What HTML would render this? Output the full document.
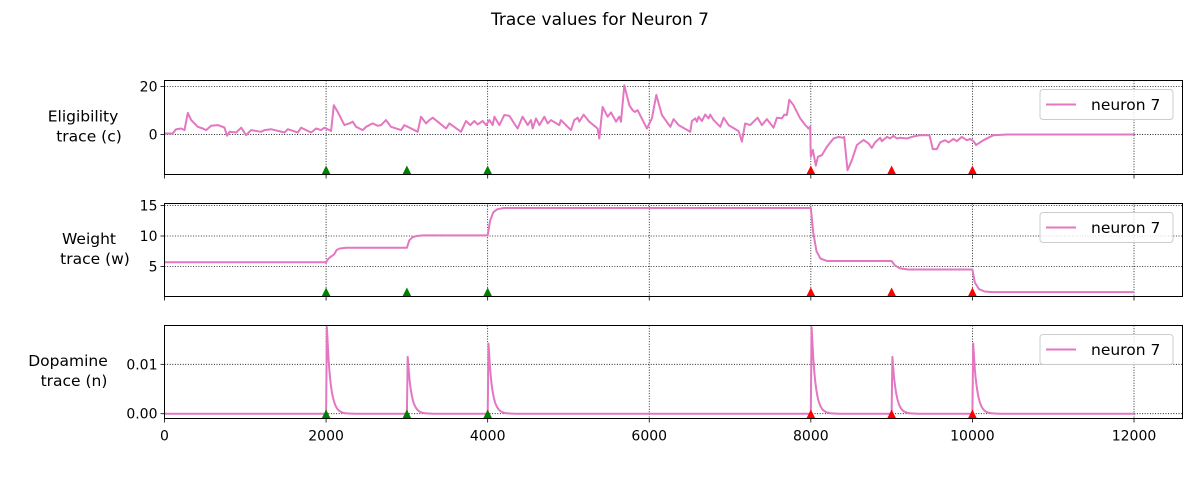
<!DOCTYPE html>
<html><head><meta charset="utf-8"><style>
html,body{margin:0;padding:0;background:#fff;}
svg{display:block;font-family:"DejaVu Sans","Liberation Sans",sans-serif;}
</style></head><body>
<svg id="chart" width="1200" height="480" viewBox="0 0 1200 480" xmlns="http://www.w3.org/2000/svg">
<text x="600" y="25" text-anchor="middle" font-size="17">Trace values for Neuron 7</text>
</svg>
<script>
// ---- data ----
const xTicks = [0, 2000, 4000, 6000, 8000, 10000, 12000];
const rewardTimes = [2000, 3000, 4000];
const punishTimes = [8000, 9000, 10000];
const eligT = [0,100,144,206,247,289,330,412,474,515,577,660,742,775,804,887,949,1010,1072,1196,1237,1320,1485,1526,1650,1691,1815,1876,1938,1980,2062,2095,2144,2227,2289,2330,2371,2454,2495,2577,2639,2681,2742,2804,2928,2969,3134,3175,3237,3279,3320,3382,3485,3526,3670,3732,3786,3835,3877,3938,3980,4021,4062,4083,4145,4206,4268,4371,4433,4495,4536,4557,4598,4640,4701,4743,4784,4887,4907,5031,5072,5114,5134,5188,5258,5361,5382,5423,5485,5526,5588,5629,5650,5691,5753,5794,5823,5856,5897,5971,6033,6087,6157,6260,6301,6363,6508,6528,6570,6590,6611,6652,6693,6735,6755,6796,6879,6920,6982,7106,7147,7188,7250,7341,7394,7456,7539,7580,7642,7671,7704,7733,7786,7869,7931,7972,7992,8000,8025,8062,8087,8137,8199,8281,8343,8397,8413,8454,8508,8570,8652,8714,8755,8796,8858,8879,8941,8982,9023,9065,9106,9188,9250,9353,9435,9469,9510,9559,9601,9662,9704,9765,9807,9869,9931,9972,10013,10046,10137,10261,10425,12000];
const eligV = [0.4,0.4,2.2,2.5,1.8,9,6,3.2,2.5,1.8,3.6,3.9,2.9,-0.5,1.1,0.8,2.8,-0.3,1.8,1.1,1.8,2.2,0.8,2.2,0.8,2.8,0.8,2.5,1.8,2.8,1.5,12.2,9.4,3.9,4.6,5.3,3.2,1.8,3.2,4.6,3.6,3.9,6,3.2,1.8,3.9,1.1,7.4,4.6,6,7,5.3,2.5,4.6,1.1,5.6,3.9,5.6,4.2,5.6,3.9,6,3.9,7.4,3.9,8.1,7.8,2.5,7.4,3.9,6,2.5,6.7,3.9,7.4,4.6,6,3.9,6,1.8,6,7,5.3,8.3,5.3,2.5,-1.7,11.5,7.4,9.2,5.3,7.4,5.3,20.5,12.2,10.1,9.4,10.1,7.4,2.5,6.7,16.5,8.1,3.2,6.4,3.9,1.1,5.6,6.7,5.3,7.4,5.6,8.3,6.7,8.3,6,3.2,7,3.9,1.4,-3,4.6,3.9,7,3.9,6.4,2.8,7,6.7,8.3,8.1,14.5,12.2,6.7,3.9,2.5,3.2,-9.3,-6.5,-13,-9.3,-8.6,-5.1,-1.7,-1,-1.4,-1,-14.9,-10.7,-4.4,-2.3,-3.7,-5.6,-3.3,-1.4,-2.8,-1,-1.7,-0.6,-1.7,-1.4,-1.7,-1,-0.3,-0.3,-0.3,-6.1,-6.1,-3.3,-2.4,-3.3,-1.9,-2.8,-1,-2.4,-1.9,-2.8,-4.4,-2.4,-0.3,0,0];
const weightT = [0,2000,2030,2060,2100,2130,2170,2250,3000,3030,3070,3120,3200,4000,4030,4070,4120,4200,8000,8030,8070,8120,8200,9000,9040,9100,9200,10000,10030,10080,10150,10250,12000];
const weightV = [5.7,5.7,6.3,6.6,7.0,7.7,7.95,8.07,8.07,9.3,9.8,10.0,10.1,10.1,12.5,13.9,14.4,14.6,14.6,10.5,7.5,6.3,5.9,5.9,5.2,4.7,4.5,4.5,2.4,1.3,0.9,0.8,0.8];
const dopaTimes = [2000, 3000, 4000, 8000, 9000, 10000];
const dopaPeaks = [0.0175, 0.0115, 0.0142, 0.0175, 0.0115, 0.0142];
const dopaEnd = 12000;

// ---- layout ----
const NS = "http://www.w3.org/2000/svg";
const svg = document.getElementById('chart');
const L = 164.5, R = 1182.5, xMin = 0, xMax = (R - L) / ((1134 - 164.5) / 12000);
const sx = v => L + (v - xMin) / (xMax - xMin) * (R - L);
const panels = [
  {name:'eligibility', top:80.5, bot:174.5, yMin:-16.7, yMax:22.5, yTicks:[0,20], fmt:v=>String(v), label:['Eligibility','trace (c)'], lx:83},
  {name:'weight', top:203.5, bot:296.5, yMin:0.08, yMax:15.33, yTicks:[5,10,15], fmt:v=>String(v), label:['Weight','trace (w)'], lx:89},
  {name:'dopamine', top:325.5, bot:418.5, yMin:-0.00097, yMax:0.01786, yTicks:[0,0.01], fmt:v=>v.toFixed(2), label:['Dopamine','trace (n)'], lx:68}
];
function mk(tag, attrs, parent){const e=document.createElementNS(NS,tag);for(const k in attrs)e.setAttribute(k,attrs[k]);(parent||svg).appendChild(e);return e;}

panels.forEach((p, pi) => {
  const sy = v => p.bot - (v - p.yMin) / (p.yMax - p.yMin) * (p.bot - p.top);
  const g = mk('g', {});
  
  
  xTicks.forEach(t => {
    const ln = mk('line', {x1:sx(t), x2:sx(t), y1:p.top, y2:p.bot, stroke:'#000', 'stroke-width':0.8, 'stroke-dasharray':'1,1.6'}, g);
    
    
    const tk = mk('line', {x1:sx(t), x2:sx(t), y1:p.bot, y2:p.bot+4, stroke:'#000', 'stroke-width':0.8}, g);
    
    
    if (pi === 2) {
      const tx = mk('text', {x:sx(t), y:p.bot+22, 'text-anchor':'middle', 'font-size':14}, g);
      tx.textContent = t;
      
      
    }
  });
  p.yTicks.forEach(v => {
    const ln = mk('line', {x1:L, x2:R, y1:sy(v), y2:sy(v), stroke:'#000', 'stroke-width':0.8, 'stroke-dasharray':'1,1.6'}, g);
    
    
    const tk = mk('line', {x1:L-4, x2:L, y1:sy(v), y2:sy(v), stroke:'#000', 'stroke-width':0.8}, g);
    
    
    const tx = mk('text', {x:L-7, y:sy(v)+5, 'text-anchor':'end', 'font-size':14}, g);
    tx.textContent = p.fmt(v);
    
    
  });
  const yl = mk('text', {x:p.lx, y:(p.top+p.bot)/2 - 6, 'text-anchor':'middle', 'font-size':15.5}, g);
  
  
  const s1 = mk('tspan', {x:p.lx, dy:0}, yl); s1.textContent = p.label[0];
  const s2 = mk('tspan', {x:p.lx + 6, dy:20}, yl); s2.textContent = p.label[1];
  let pts = [];
  if (pi === 0) pts = eligT.map((t,i)=>[t, eligV[i]]);
  else if (pi === 1) pts = weightT.map((t,i)=>[t, weightV[i]]);
  else {
    pts.push([0,0]);
    dopaTimes.forEach((t,i)=>{
      pts.push([t,0]); pts.push([t+10, dopaPeaks[i]]);
      for (let d=20; d<=400; d+=10) pts.push([t+10+d, dopaPeaks[i]*Math.exp(-d/45)]);
    });
    pts.push([dopaEnd,0]);
  }
  const path = mk('polyline', {points: pts.map(q=>sx(q[0]).toFixed(1)+','+sy(q[1]).toFixed(1)).join(' '), fill:'none', stroke:'#e377c2', 'stroke-width':2, 'stroke-linejoin':'round'}, g);
  
  
  rewardTimes.forEach(t => {
    const m = mk('polygon', {points:`${sx(t)-4.5},${p.bot} ${sx(t)+4.5},${p.bot} ${sx(t)},${p.bot-9}`, fill:'#008000'}, g);
    
    
  });
  punishTimes.forEach(t => {
    const m = mk('polygon', {points:`${sx(t)-4.5},${p.bot} ${sx(t)+4.5},${p.bot} ${sx(t)},${p.bot-9}`, fill:'#ff0000'}, g);
    
    
  });
  const fr = mk('rect', {x:L, y:p.top, width:R-L, height:p.bot-p.top, fill:'none', stroke:'#000', 'stroke-width':1}, g);
  
  
  const lg = mk('g', {}, g);
  
  
  const ly = p.top + 9;
  mk('rect', {x:1040, y:ly, width:133, height:30, rx:3, fill:'#fff', 'fill-opacity':0.8, stroke:'#ccc'}, lg);
  mk('line', {x1:1046, x2:1076, y1:ly+15, y2:ly+15, stroke:'#e377c2', 'stroke-width':2}, lg);
  const lt = mk('text', {x:1091, y:ly+20.5, 'font-size':15.5}, lg);
  lt.textContent = 'neuron 7';
  
  
});
</script>
</body></html>
